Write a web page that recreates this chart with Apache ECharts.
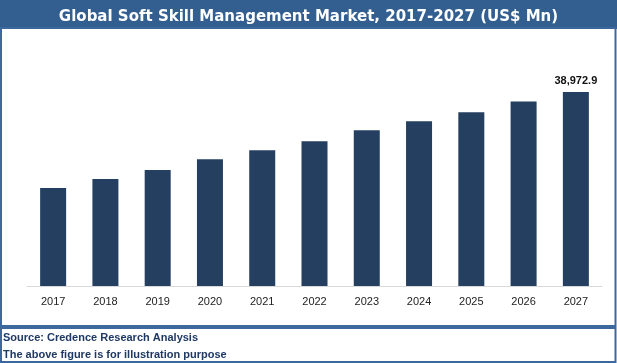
<!DOCTYPE html>
<html><head><meta charset="utf-8">
<script src="https://cdn.jsdelivr.net/npm/echarts@6/dist/echarts.min.js"></script>
<style>html,body{margin:0;padding:0;background:#fff}#c{width:617px;height:363px}</style>
</head><body><div id="c"></div>
<script>
const categories = ['2017','2018','2019','2020','2021','2022','2023','2024','2025','2026','2027'];
const values = [19700, 21500, 23300, 25500, 27300, 29100, 31300, 33100, 34900, 37100, 38972.9];
const titleText = 'Global Soft Skill Management Market, 2017-2027 (US$ Mn)';
const sourceLines = ['Source: Credence Research Analysis', 'The above figure is for illustration purpose'];

const chart = echarts.init(document.getElementById('c'), null, {renderer:'canvas'});
const borderColor = '#3d689e';
chart.setOption({
  animation:false,
  title:{text:titleText,left:'center',top:5,textStyle:{color:'#fff',fontFamily:'DejaVu Sans',fontWeight:'bold',fontSize:15}},
  grid:{left:27,right:15,top:87,bottom:77},
  xAxis:{type:'category',data:categories,
    axisLine:{lineStyle:{color:'#d9d9d9',width:1}},axisTick:{show:false},
    axisLabel:{color:'#222',fontFamily:'Liberation Sans',fontSize:11,margin:10}},
  yAxis:{type:'value',min:0,max:40000,show:false,splitLine:{show:false}},
  series:[{type:'bar',data:values.map((v,i)=>i===values.length-1?{value:v,label:{show:true}}:v),
    barWidth:26,itemStyle:{color:'#243f60'},
    label:{show:false,position:'top',distance:6,color:'#111',fontFamily:'Liberation Sans',fontWeight:'bold',fontSize:11,
      formatter:p=>p.value.toLocaleString('en-US',{minimumFractionDigits:1,maximumFractionDigits:1})}}],
  graphic:[
    {type:'rect',z:-1,shape:{x:0,y:0,width:617,height:29},style:{fill:'#335e90'}},
    {type:'rect',shape:{x:1,y:28,width:614.5,height:298},style:{fill:'none',stroke:borderColor,lineWidth:2}},
    {type:'rect',shape:{x:1,y:328,width:614.5,height:34},style:{fill:'none',stroke:borderColor,lineWidth:2}},
    {type:'text',left:3,top:332,style:{text:sourceLines[0],fill:'#1f3864',font:'bold 11px "Liberation Sans"'}},
    {type:'text',left:3,top:349,style:{text:sourceLines[1],fill:'#1f3864',font:'bold 11px "Liberation Sans"'}}
  ]
});
</script></body></html>
